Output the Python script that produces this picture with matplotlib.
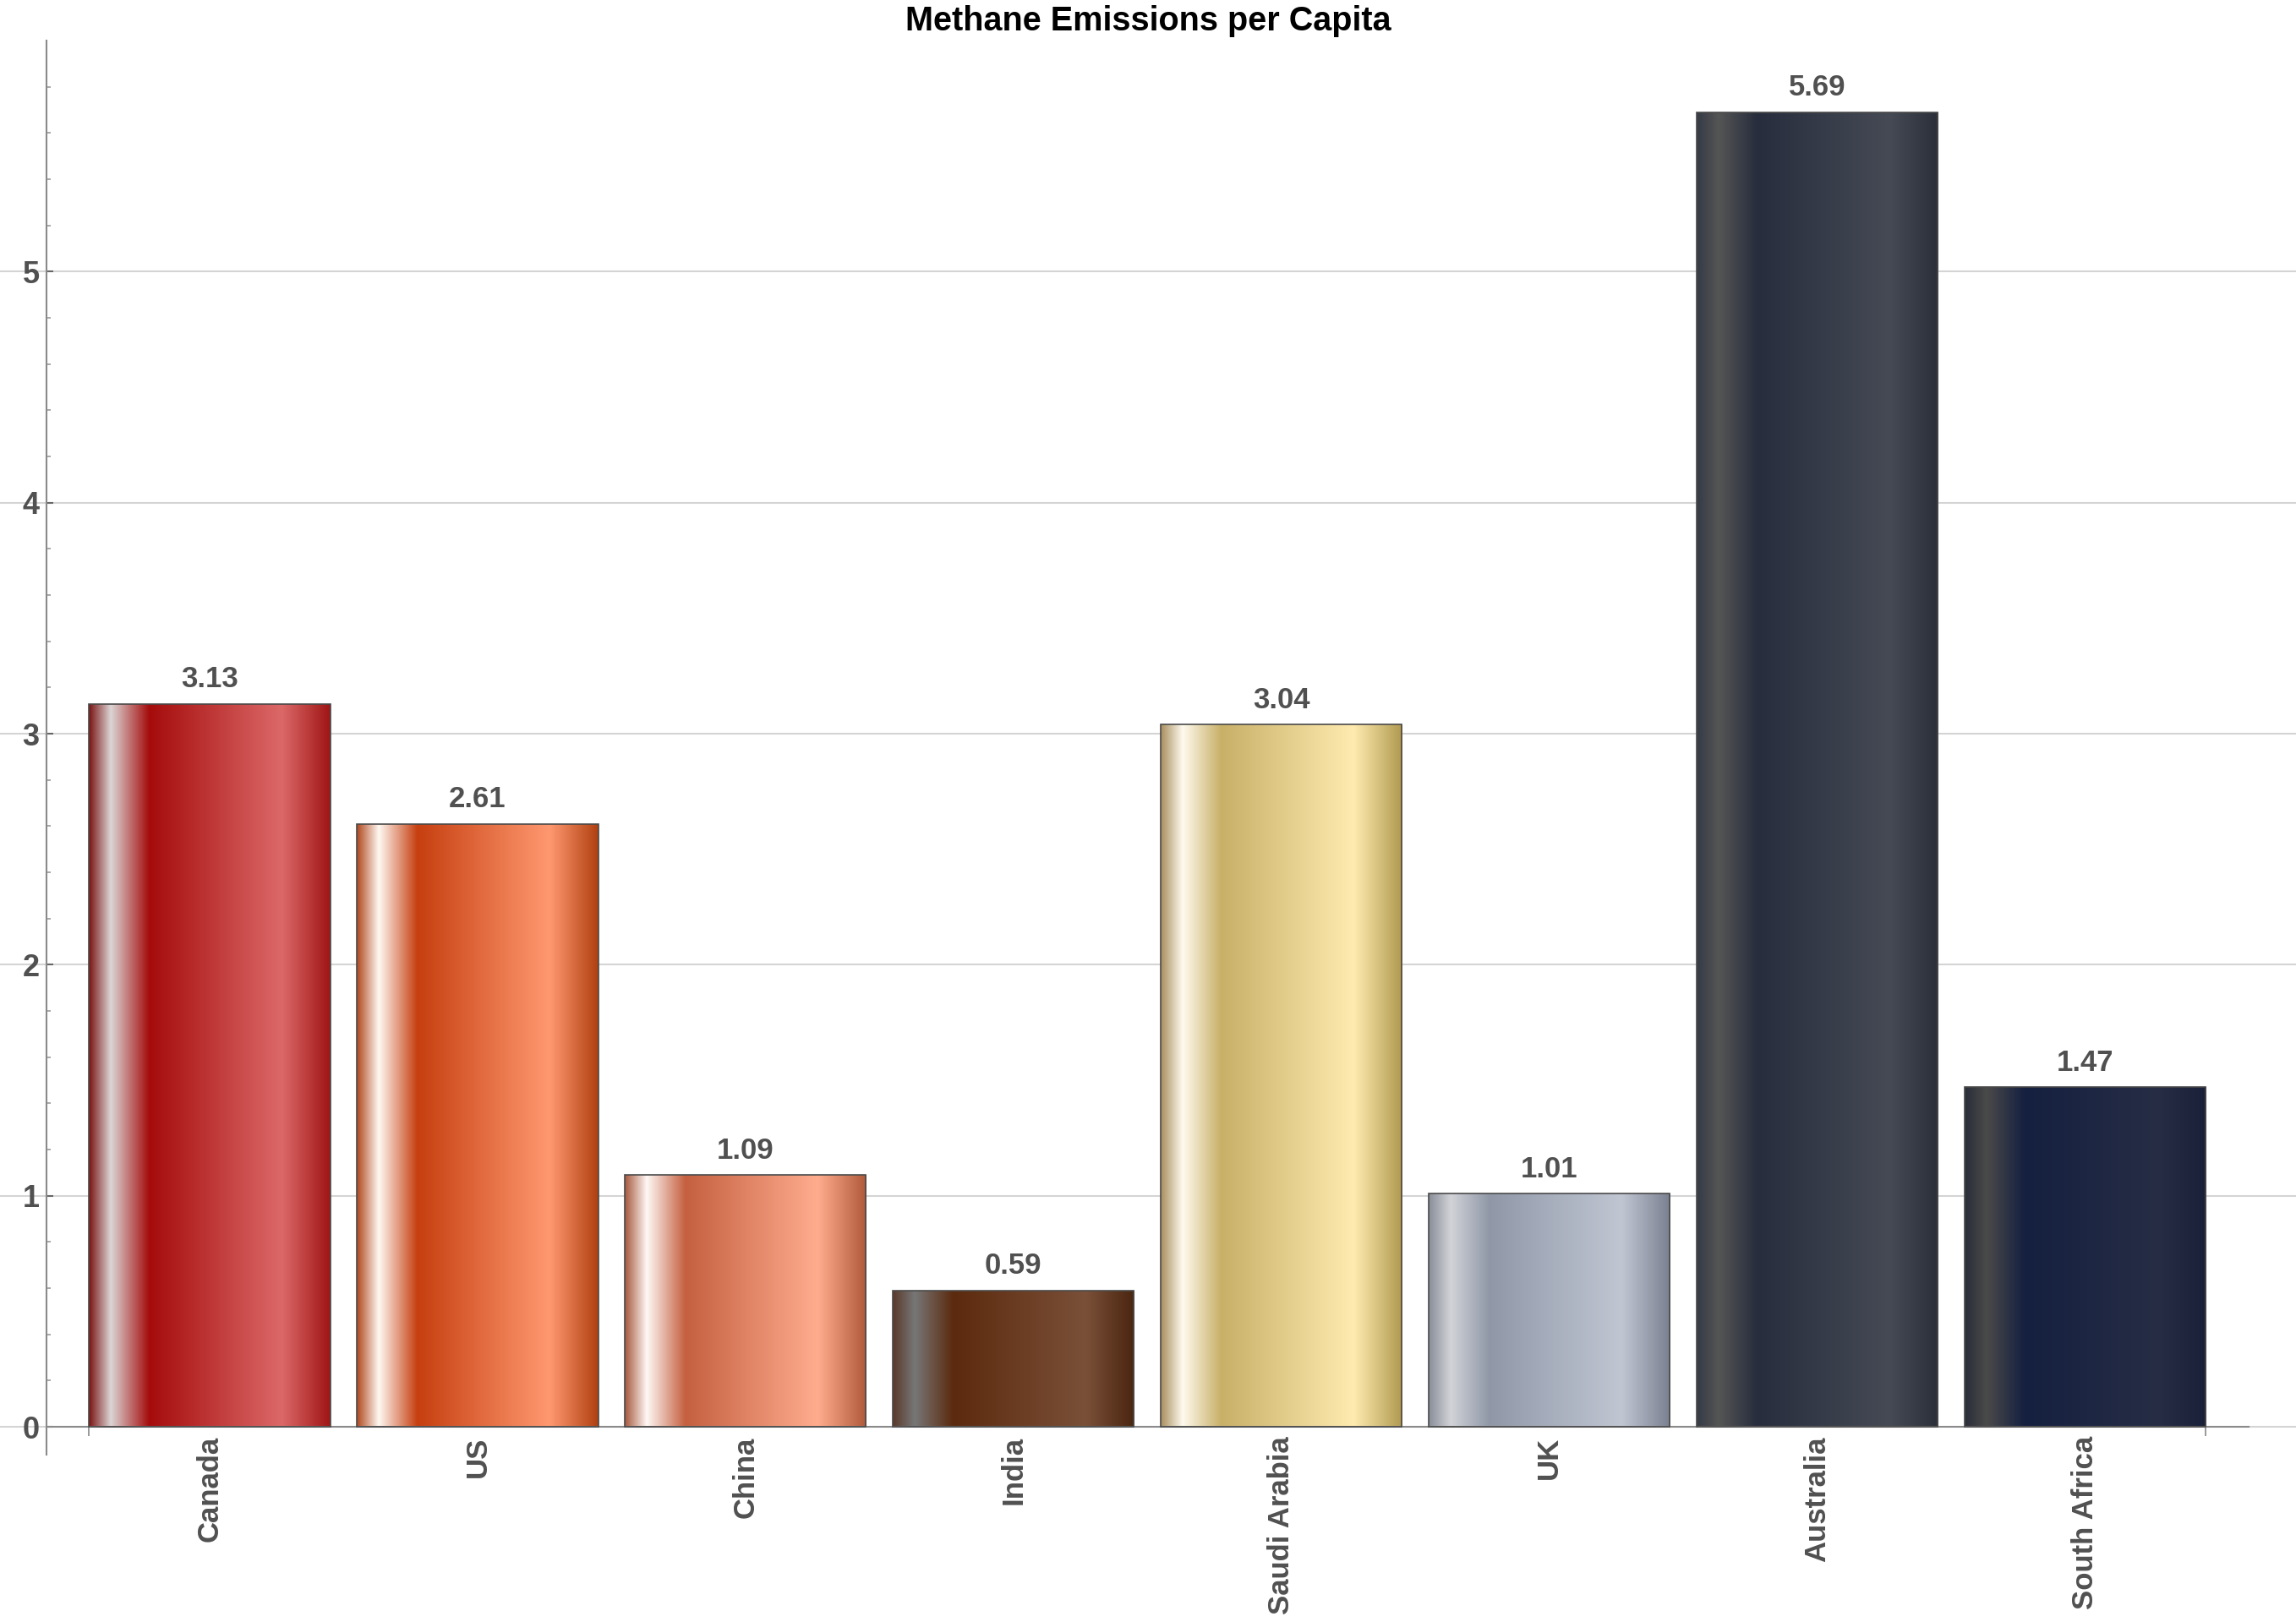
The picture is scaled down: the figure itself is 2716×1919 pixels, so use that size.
import numpy as np
import matplotlib
matplotlib.use('Agg')
import matplotlib.pyplot as plt
from matplotlib.colors import to_rgb
from matplotlib.ticker import FixedLocator

countries = ['Canada', 'US', 'China', 'India', 'Saudi Arabia', 'UK', 'Australia', 'South Africa']
emissions = [3.13, 2.61, 1.09, 0.59, 3.04, 1.01, 5.69, 1.47]

# shading stops for each bar: left edge, highlight, base, light, right edge
shades = [
    ['#7b1515', '#dcd5d5', '#a50c0c', '#dc6868', '#a01515'],
    ['#b04a20', '#fff8f2', '#c63f10', '#ff9870', '#b04010'],
    ['#a85a40', '#fff8f5', '#c46040', '#ffac8e', '#b05a3a'],
    ['#5a3a2a', '#777777', '#5c2a0e', '#7a5038', '#4a2510'],
    ['#a89060', '#fffaee', '#c8b068', '#ffebb0', '#b09a50'],
    ['#8a8e98', '#d2d3d8', '#9098a8', '#c0c6d2', '#7a8090'],
    ['#353a45', '#555555', '#272d3d', '#454a55', '#2a2f3a'],
    ['#2a2e38', '#4a4a4a', '#152040', '#262d45', '#1a2038'],
]
stop_pos = [0.0, 0.09, 0.25, 0.8, 1.0]

plt.rcParams['font.family'] = ['Liberation Sans', 'DejaVu Sans']
txt_col = '#505050'

fig = plt.figure(figsize=(27.16, 19.19), dpi=100)
ax = fig.add_axes([0, 0.1032, 1, 0.975 - 0.1032])

x = np.arange(len(countries))
width = 0.9
bars = ax.bar(x, emissions, width=width, facecolor='none', edgecolor='#4a4a4a',
              linewidth=1.2, zorder=3)

t = np.linspace(0, 1, 300)
for b, sh in zip(bars, shades):
    rgb = np.array([to_rgb(c) for c in sh])
    grad = np.stack([np.interp(t, stop_pos, rgb[:, k]) for k in range(3)], axis=-1)
    x0, y0 = b.get_x(), b.get_y()
    im = ax.imshow(grad[None, :, :], extent=[x0, x0 + b.get_width(), y0, y0 + b.get_height()],
                   aspect='auto', interpolation='bilinear', zorder=2)
    im.set_clip_path(b)

ax.bar_label(bars, fmt='%.2f', padding=9, fontsize=25, fontweight='bold', color=txt_col)

ax.set_xlim(-0.7826, 7.788)
ax.set_ylim(-0.12, 6.0)

for s in ['top', 'right']:
    ax.spines[s].set_visible(False)
ax.spines['left'].set_position(('data', -0.609))
ax.spines['left'].set_bounds(-0.12, 6.0)
ax.spines['left'].set_color('#8a8a8a')
ax.spines['left'].set_linewidth(1.5)
ax.spines['bottom'].set_position(('data', 0))
ax.spines['bottom'].set_bounds(-0.609, 7.611)
ax.spines['bottom'].set_color('#8a8a8a')
ax.spines['bottom'].set_linewidth(1.5)

ax.set_yticks([0, 1, 2, 3, 4, 5])
ax.yaxis.set_minor_locator(FixedLocator([v / 5 for v in range(1, 30) if v % 5]))
ax.tick_params(axis='y', which='major', direction='in', length=6, width=1.5,
               color='#666666', pad=6, labelsize=26, labelcolor=txt_col)
ax.tick_params(axis='y', which='minor', direction='in', length=3.5, width=1.2, color='#999999')
for lb in ax.get_yticklabels():
    lb.set_fontweight('bold')

ax.set_xticks(x)
ax.set_xticklabels(countries, rotation=90, fontsize=25, fontweight='bold', color=txt_col)
ax.tick_params(axis='x', which='major', length=0, pad=8)
ax.xaxis.set_minor_locator(FixedLocator([-width / 2, x[-1] + width / 2]))
ax.tick_params(axis='x', which='minor', direction='out', length=8, width=1.2, color='#888888')

ax.grid(axis='y', which='major', color='#d4d4d4', linewidth=1.5, zorder=0)
ax.set_axisbelow(True)

fig.text(0.5, 1 - 6 / 1919, 'Methane Emissions per Capita', ha='center', va='top',
         fontsize=28.5, fontweight='bold', color='black')

fig.savefig('out.png', dpi=100)
